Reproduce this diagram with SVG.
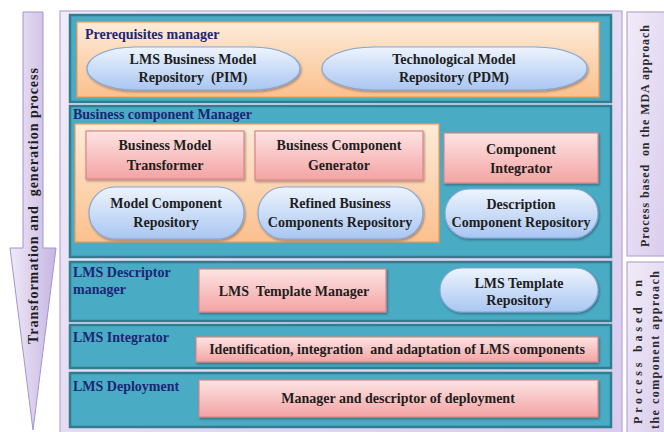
<svg xmlns="http://www.w3.org/2000/svg" width="664" height="432" viewBox="0 0 664 432">
<defs>
<linearGradient id="lav" x1="0" y1="0" x2="1" y2="1"><stop offset="0" stop-color="#f1ecf8"/><stop offset="1" stop-color="#d9cbec"/></linearGradient>
<linearGradient id="lavArrow" x1="0" y1="0" x2="1" y2="0"><stop offset="0" stop-color="#efe9f8"/><stop offset="1" stop-color="#c7b5e2"/></linearGradient>
<linearGradient id="orange" x1="0" y1="0" x2="0" y2="1"><stop offset="0" stop-color="#fdebd9"/><stop offset="1" stop-color="#fbc08d"/></linearGradient>
<linearGradient id="pink" x1="0" y1="0" x2="0" y2="1"><stop offset="0" stop-color="#fde4e4"/><stop offset="1" stop-color="#f4a3a3"/></linearGradient>
<linearGradient id="blue" x1="0" y1="0" x2="0" y2="1"><stop offset="0" stop-color="#eef4fd"/><stop offset="1" stop-color="#a9c6f2"/></linearGradient>
<filter id="sh" x="-5%" y="-5%" width="110%" height="120%"><feDropShadow dx="1" dy="1.5" stdDeviation="1" flood-color="#000" flood-opacity="0.35"/></filter>
</defs>
<style>
.panel{fill:url(#lav);stroke:#b6a6d6;stroke-width:1.2}
.teal{fill:#4aabc4;stroke:#2f7d8e;stroke-width:2.5}
.orange{fill:url(#orange);stroke:#f39a52;stroke-width:1.2}
.pink{fill:url(#pink);stroke:#d98585;stroke-width:1.2;filter:url(#sh)}
.blue{fill:url(#blue);stroke:#86a6d8;stroke-width:1.2;filter:url(#sh)}
.lbl{font-family:"Liberation Serif","Times New Roman",serif;font-weight:bold;font-size:14px;fill:#1c2676}
.t{font-family:"Liberation Serif","Times New Roman",serif;font-weight:bold;font-size:14px;fill:#1e1e1e;text-anchor:middle}
.side{font-family:"Liberation Serif","Times New Roman",serif;font-weight:bold;font-size:12px;fill:#2a2a2a;text-anchor:middle}
</style>
<rect width="664" height="432" fill="#ffffff"/>

<g id="arrow">
<path d="M23,12 H43 V248 H56 L33,430 L10,248 H23 Z" fill="url(#lavArrow)" stroke="#a594cc" stroke-width="1"/>
<text class="side" xml:space="preserve" transform="translate(38,206) rotate(-90)" style="font-size:14px;fill:#1e1e1e" textLength="276" lengthAdjust="spacing">Transformation and  generation process</text>
</g>

<g id="mda-panel">
<rect x="627" y="12" width="40" height="244" class="panel"/>
<text class="side" xml:space="preserve" transform="translate(649,136) rotate(-90)" textLength="222" lengthAdjust="spacing">Process based  on the MDA approach</text>
</g>
<g id="component-panel">
<rect x="627" y="262" width="40" height="180" class="panel"/>
<text class="side" transform="translate(642,352) rotate(-90)" textLength="144" lengthAdjust="spacing">Process based on</text>
<text class="side" transform="translate(659,350) rotate(-90)" textLength="158" lengthAdjust="spacing">the component approach</text>
</g>

<g id="main-panel">
<rect x="60" y="11" width="562" height="430" class="panel"/>
</g>

<g id="prerequisites-manager">
<rect x="70" y="15" width="541" height="87" class="teal"/>
<rect x="77" y="22" width="522" height="75" class="orange"/>
<text class="lbl" x="85" y="39">Prerequisites manager</text>
</g>
<g id="lms-business-model-repository">
<rect x="87" y="47" width="213" height="43" rx="48" ry="21.5" class="blue"/>
<text class="t" x="193" y="64">LMS Business Model</text>
<text class="t" xml:space="preserve" x="193" y="82">Repository  (PIM)</text>
</g>
<g id="technological-model-repository">
<rect x="322" y="47" width="265" height="43" rx="52" ry="21.5" class="blue"/>
<text class="t" x="454" y="64">Technological Model</text>
<text class="t" x="454" y="82">Repository (PDM)</text>
</g>

<g id="business-component-manager">
<rect x="70" y="106" width="541" height="151" class="teal"/>
<rect x="75" y="124" width="364" height="118" class="orange"/>
<text class="lbl" x="73" y="119">Business component Manager</text>
</g>
<g id="business-model-transformer">
<rect x="86" y="131" width="158" height="48" class="pink"/>
<text class="t" x="165" y="150">Business Model</text>
<text class="t" x="165" y="170">Transformer</text>
</g>
<g id="business-component-generator">
<rect x="255" y="131" width="168" height="49" class="pink"/>
<text class="t" x="339" y="150">Business Component</text>
<text class="t" x="339" y="170">Generator</text>
</g>
<g id="component-integrator">
<rect x="444" y="133" width="154" height="50" class="pink"/>
<text class="t" x="521" y="154">Component</text>
<text class="t" x="521" y="173">Integrator</text>
</g>
<g id="model-component-repository">
<rect x="89" y="187" width="155" height="52" rx="26" class="blue"/>
<text class="t" x="166" y="208">Model Component</text>
<text class="t" x="166" y="227">Repository</text>
</g>
<g id="refined-business-components-repository">
<rect x="258" y="187" width="165" height="52" rx="26" class="blue"/>
<text class="t" x="340" y="208">Refined Business</text>
<text class="t" x="340" y="227">Components Repository</text>
</g>
<g id="description-component-repository">
<rect x="445" y="189" width="153" height="49" rx="24.5" class="blue"/>
<text class="t" x="521" y="209">Description</text>
<text class="t" x="521" y="227">Component Repository</text>
</g>

<g id="lms-descriptor-manager">
<rect x="70" y="262" width="541" height="59" class="teal"/>
<text class="lbl" x="73" y="277">LMS Descriptor</text>
<text class="lbl" x="73" y="294">manager</text>
</g>
<g id="lms-template-manager">
<rect x="199" y="269" width="187" height="43" class="pink"/>
<text class="t" xml:space="preserve" x="294" y="296">LMS  Template Manager</text>
</g>
<g id="lms-template-repository">
<rect x="440" y="268" width="158" height="44" rx="22" class="blue"/>
<text class="t" x="519" y="288">LMS Template</text>
<text class="t" x="519" y="305">Repository</text>
</g>

<g id="lms-integrator">
<rect x="70" y="325" width="541" height="43" class="teal"/>
<text class="lbl" x="73" y="342">LMS Integrator</text>
</g>
<g id="identification-integration-adaptation">
<rect x="196" y="337" width="402" height="25" class="pink"/>
<text class="t" xml:space="preserve" x="397" y="354">Identification, integration  and adaptation of LMS components</text>
</g>

<g id="lms-deployment">
<rect x="70" y="373" width="541" height="54" class="teal"/>
<text class="lbl" x="73" y="391">LMS Deployment</text>
</g>
<g id="manager-descriptor-deployment">
<rect x="199" y="380" width="399" height="37" class="pink"/>
<text class="t" x="398" y="403">Manager and descriptor of deployment</text>
</g>

<g id="connectors"/>
</svg>
